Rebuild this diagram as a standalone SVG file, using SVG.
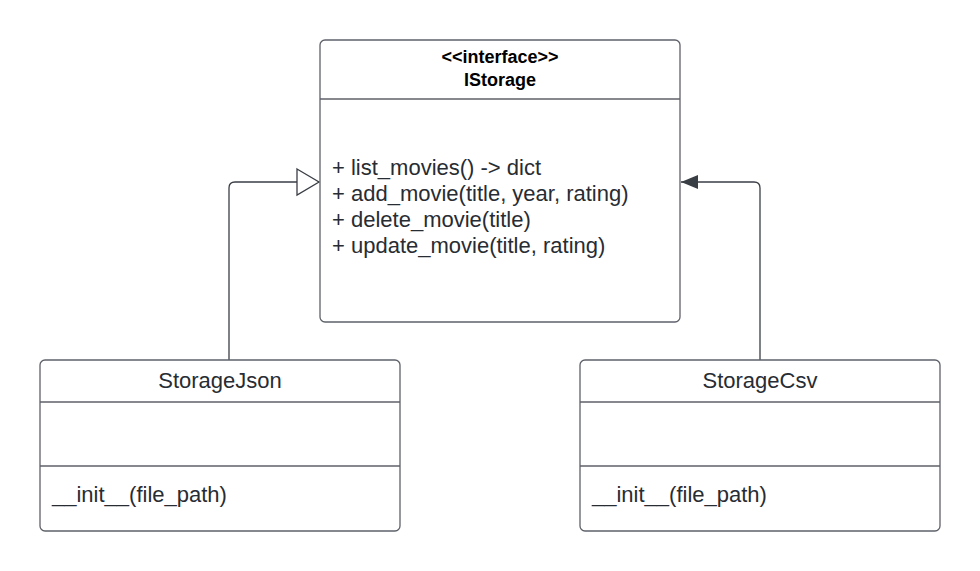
<svg xmlns="http://www.w3.org/2000/svg" width="980" height="571" viewBox="0 0 980 571">
<defs>
<style>
.box{fill:#fff;stroke:#5e6169;stroke-width:1.3}
.div{stroke:#5e6169;stroke-width:1.3}
.t{font-family:"Liberation Sans",Arial,sans-serif;fill:#282c33}
.b{font-weight:bold;font-size:18px;text-anchor:middle;fill:#000}
.m{font-size:22px}
.c{font-size:22px;text-anchor:middle}
.con{fill:none;stroke:#3a3e45;stroke-width:1.3}
</style>
<marker id="hollow" markerWidth="26" markerHeight="30" refX="23" refY="15" orient="auto" markerUnits="userSpaceOnUse">
<path d="M1,2 L23,15 L1,28 Z" fill="#fff" stroke="#3a3e45" stroke-width="1.3"/>
</marker>
<marker id="filled" markerWidth="20" markerHeight="16" refX="18" refY="8" orient="auto" markerUnits="userSpaceOnUse">
<path d="M1,1 L18,8 L1,15 Z" fill="#3a3e45"/>
</marker>
</defs>
<rect width="980" height="571" fill="#fff"/>
<g id="connectors">
<path class="con" d="M229,360 V188 Q229,182 235,182 H319" marker-end="url(#hollow)"/>
<path class="con" d="M760,360 V188 Q760,182 754,182 H681" marker-end="url(#filled)"/>
</g>
<g id="IStorage">
<rect class="box" x="320" y="40" width="360" height="282" rx="5"/>
<line class="div" x1="320" y1="99" x2="680" y2="99"/>
<text class="t b" x="500" y="63">&lt;&lt;interface&gt;&gt;</text>
<text class="t b" x="500" y="86">IStorage</text>
<text class="t m" x="332" y="175">+ list_movies() -&gt; dict</text>
<text class="t m" x="332" y="201">+ add_movie(title, year, rating)</text>
<text class="t m" x="332" y="227">+ delete_movie(title)</text>
<text class="t m" x="332" y="253">+ update_movie(title, rating)</text>
</g>
<g id="StorageJson">
<rect class="box" x="40" y="360" width="360" height="171" rx="5"/>
<line class="div" x1="40" y1="402" x2="400" y2="402"/>
<line class="div" x1="40" y1="466" x2="400" y2="466"/>
<text class="t c" x="220" y="388">StorageJson</text>
<text class="t m" x="52" y="502">__init__(file_path)</text>
</g>
<g id="StorageCsv">
<rect class="box" x="580" y="360" width="360" height="171" rx="5"/>
<line class="div" x1="580" y1="402" x2="940" y2="402"/>
<line class="div" x1="580" y1="466" x2="940" y2="466"/>
<text class="t c" x="760" y="388">StorageCsv</text>
<text class="t m" x="592" y="502">__init__(file_path)</text>
</g>
</svg>
